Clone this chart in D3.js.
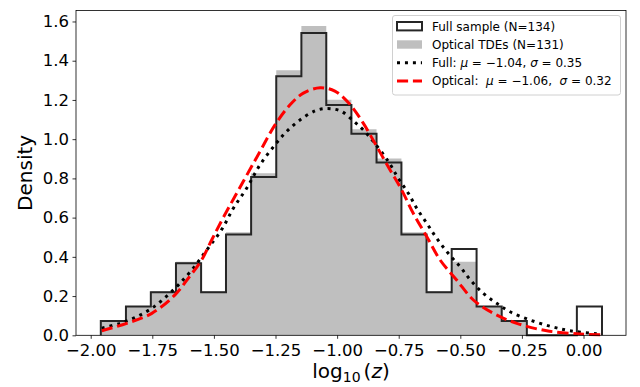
<!DOCTYPE html>
<html>
<head>
<meta charset="utf-8">
<script src="https://cdn.jsdelivr.net/npm/d3@7"></script>
<style>
  html, body { margin: 0; padding: 0; background: #fff; }
  svg { display: block; font-family: "DejaVu Sans", sans-serif; }
</style>
</head>
<body>
<svg id="chart" width="640" height="387"></svg>
<script>
// ---- data ----
const binEdges = [-1.959, -1.857, -1.756, -1.654, -1.552, -1.451, -1.349, -1.247, -1.145, -1.044,
                  -0.942, -0.840, -0.739, -0.637, -0.535, -0.434, -0.332, -0.230, -0.129, -0.027, 0.075];
const fullDensity = [0.073, 0.147, 0.220, 0.367, 0.220, 0.514, 0.807, 1.321, 1.541, 1.174,
                     1.027, 0.881, 0.514, 0.220, 0.440, 0.147, 0.073, 0, 0, 0.147];
const opticalDensity = [0.075, 0.150, 0.225, 0.375, 0.225, 0.525, 0.826, 1.351, 1.577, 1.201,
                        1.051, 0.901, 0.525, 0.225, 0.375, 0.150, 0.075, 0, 0, 0];

const fullCurveX = [-1.955, -1.881, -1.813, -1.752, -1.694, -1.644, -1.590, -1.529, -1.468, -1.421,
                    -1.367, -1.313, -1.252, -1.205, -1.151, -1.090, -1.056, -1.022, -0.981, -0.934,
                    -0.894, -0.853, -0.792, -0.752, -0.711, -0.677, -0.636, -0.596, -0.549, -0.501,
                    -0.461, -0.407, -0.352, -0.298, -0.217, -0.129, -0.054, 0.054, 0.074];
const fullCurveY = [0.036, 0.061, 0.095, 0.138, 0.197, 0.257, 0.333, 0.435, 0.540, 0.648,
                    0.750, 0.869, 0.971, 1.039, 1.098, 1.144, 1.155, 1.155, 1.141, 1.093,
                    1.047, 0.988, 0.886, 0.801, 0.724, 0.648, 0.571, 0.495, 0.418, 0.350,
                    0.285, 0.214, 0.163, 0.120, 0.078, 0.044, 0.023, 0.008, 0.006];

const opticalCurveX = [-1.955, -1.854, -1.752, -1.658, -1.604, -1.550, -1.509, -1.462, -1.381, -1.313,
                       -1.252, -1.191, -1.137, -1.069, -1.009, -0.950, -0.894, -0.839, -0.785, -0.738,
                       -0.691, -0.636, -0.582, -0.515, -0.447, -0.366, -0.271, -0.149, -0.014, 0.074];
const opticalCurveY = [0.023, 0.061, 0.112, 0.206, 0.291, 0.384, 0.486, 0.600, 0.784, 0.937,
                       1.073, 1.175, 1.235, 1.262, 1.245, 1.180, 1.082, 0.962, 0.843, 0.741,
                       0.622, 0.503, 0.384, 0.282, 0.180, 0.112, 0.061, 0.023, 0.007, 0.002];

const xTicks = [-2.00, -1.75, -1.50, -1.25, -1.00, -0.75, -0.50, -0.25, 0.00];
const xTickLabels = ["\u22122.00", "\u22121.75", "\u22121.50", "\u22121.25", "\u22121.00", "\u22120.75", "\u22120.50", "\u22120.25", "0.00"];
const yTicks = [0.0, 0.2, 0.4, 0.6, 0.8, 1.0, 1.2, 1.4, 1.6];
const yTickLabels = ["0.0", "0.2", "0.4", "0.6", "0.8", "1.0", "1.2", "1.4", "1.6"];
const legendLabels = ["Full sample (N=134)", "Optical TDEs (N=131)", "Full", "Optical"];
const fitMu = ["\u22121.04", "\u22121.06"];
const fitSigma = ["0.35", "0.32"];

// ---- layout ----
const plot = { left: 76, right: 626, top: 10.5, bottom: 335.3 };
const svg = d3.select("#chart");

const x = d3.scaleLinear().domain([-2.0597, 0.1724]).range([plot.left, plot.right]);
const y = d3.scaleLinear().domain([0, 1.656]).range([plot.bottom, plot.top]);

// optical histogram (filled)
const fillPts = opticalDensity.map((d, i) => [binEdges[i], d]);
fillPts.push([binEdges[binEdges.length - 1], opticalDensity[opticalDensity.length - 1]]);
svg.append("path")
  .attr("d", d3.area().curve(d3.curveStepAfter)
    .x(d => x(d[0])).y0(y(0)).y1(d => y(d[1]))(fillPts))
  .attr("fill", "#bfbfbf")
  .attr("stroke", "none");

// full histogram (step outline)
const stepPts = [[binEdges[0], 0]];
fullDensity.forEach((d, i) => stepPts.push([binEdges[i], d]));
stepPts.push([binEdges[binEdges.length - 1], 0]);
svg.append("path")
  .attr("d", d3.line().curve(d3.curveStepAfter).x(d => x(d[0])).y(d => y(d[1]))(stepPts))
  .attr("fill", "none")
  .attr("stroke", "#262626")
  .attr("stroke-width", 2)
  .attr("stroke-linejoin", "miter");

// fit curves
const curveLine = d3.line().curve(d3.curveCatmullRom.alpha(0.5)).x(d => x(d[0])).y(d => y(d[1]));
svg.append("path")
  .attr("d", curveLine(fullCurveX.map((v, i) => [v, fullCurveY[i]])))
  .attr("fill", "none").attr("stroke", "#000").attr("stroke-width", 3)
  .attr("stroke-dasharray", "3 4.95");
svg.append("path")
  .attr("d", curveLine(opticalCurveX.map((v, i) => [v, opticalCurveY[i]])))
  .attr("fill", "none").attr("stroke", "#ff0000").attr("stroke-width", 3)
  .attr("stroke-dasharray", "11.1 4.8");

// axes
const xAxis = d3.axisBottom(x).tickValues(xTicks).tickFormat((d, i) => xTickLabels[i])
  .tickSizeOuter(0).tickSizeInner(3.5).tickPadding(5);
const gx = svg.append("g").attr("transform", `translate(0,${plot.bottom})`).call(xAxis);
const yAxis = d3.axisLeft(y).tickValues(yTicks).tickFormat((d, i) => yTickLabels[i])
  .tickSizeOuter(0).tickSizeInner(3.5).tickPadding(3.5);
const gy = svg.append("g").attr("transform", `translate(${plot.left},0)`).call(yAxis);
[gx, gy].forEach(g => {
  g.select(".domain").remove();
  g.selectAll(".tick line").attr("stroke", "#000").attr("stroke-width", 0.8);
  g.selectAll(".tick text").attr("fill", "#000").style("font-size", "16.5px")
    .style("font-family", "DejaVu Sans");
});

// spines
svg.append("rect")
  .attr("x", plot.left).attr("y", plot.top)
  .attr("width", plot.right - plot.left).attr("height", plot.bottom - plot.top)
  .attr("fill", "none").attr("stroke", "#000").attr("stroke-width", 0.8);

// axis labels
const xl = svg.append("text").attr("x", (plot.left + plot.right) / 2).attr("y", 378)
  .attr("text-anchor", "middle").style("font-size", "20px").attr("fill", "#000");
xl.append("tspan").text("log");
xl.append("tspan").attr("dy", 4).style("font-size", "14px").text("10");
xl.append("tspan").attr("dy", -4).attr("dx", 3).text("(");
xl.append("tspan").style("font-style", "italic").text("z");
xl.append("tspan").text(")");

svg.append("text")
  .attr("transform", `translate(32,${(plot.top + plot.bottom) / 2}) rotate(-90)`)
  .attr("text-anchor", "middle").style("font-size", "20px").attr("fill", "#000")
  .text("Density");

// legend
const lg = svg.append("g");
lg.append("rect").attr("x", 392.5).attr("y", 15.5).attr("width", 228).attr("height", 79.5)
  .attr("rx", 2.5).attr("fill", "#fff").attr("fill-opacity", 0.8)
  .attr("stroke", "#d0d0d0").attr("stroke-width", 1);
const rowY = [26.2, 44.5, 62.8, 81.1];
const hx0 = 397, hx1 = 422, tx = 432;
lg.append("rect").attr("x", hx0).attr("y", rowY[0] - 4.2).attr("width", hx1 - hx0).attr("height", 8.4)
  .attr("fill", "none").attr("stroke", "#262626").attr("stroke-width", 2);
lg.append("rect").attr("x", hx0).attr("y", rowY[1] - 4.2).attr("width", hx1 - hx0).attr("height", 8.4)
  .attr("fill", "#bfbfbf");
lg.append("line").attr("x1", hx0).attr("x2", hx1).attr("y1", rowY[2]).attr("y2", rowY[2])
  .attr("stroke", "#000").attr("stroke-width", 3).attr("stroke-dasharray", "3 4.95");
lg.append("line").attr("x1", hx0).attr("x2", hx1).attr("y1", rowY[3]).attr("y2", rowY[3])
  .attr("stroke", "#ff0000").attr("stroke-width", 3).attr("stroke-dasharray", "11.1 4.8");

const lt = (i) => lg.append("text").attr("x", tx).attr("y", rowY[i]).attr("dy", "0.36em")
  .style("font-size", "12px").attr("fill", "#000").attr("xml:space", "preserve");
lt(0).text(legendLabels[0]);
lt(1).text(legendLabels[1]);
const t3 = lt(2);
t3.append("tspan").text(legendLabels[2] + ": ");
t3.append("tspan").style("font-style", "italic").text("\u03bc");
t3.append("tspan").text(" = " + fitMu[0] + ", ");
t3.append("tspan").style("font-style", "italic").text("\u03c3");
t3.append("tspan").text(" = " + fitSigma[0]);
const t4 = lt(3);
t4.append("tspan").text(legendLabels[3] + ":\u00a0 ");
t4.append("tspan").style("font-style", "italic").text("\u03bc");
t4.append("tspan").text(" = " + fitMu[1] + ",\u00a0 ");
t4.append("tspan").style("font-style", "italic").text("\u03c3");
t4.append("tspan").text(" = " + fitSigma[1]);
</script>
</body>
</html>
